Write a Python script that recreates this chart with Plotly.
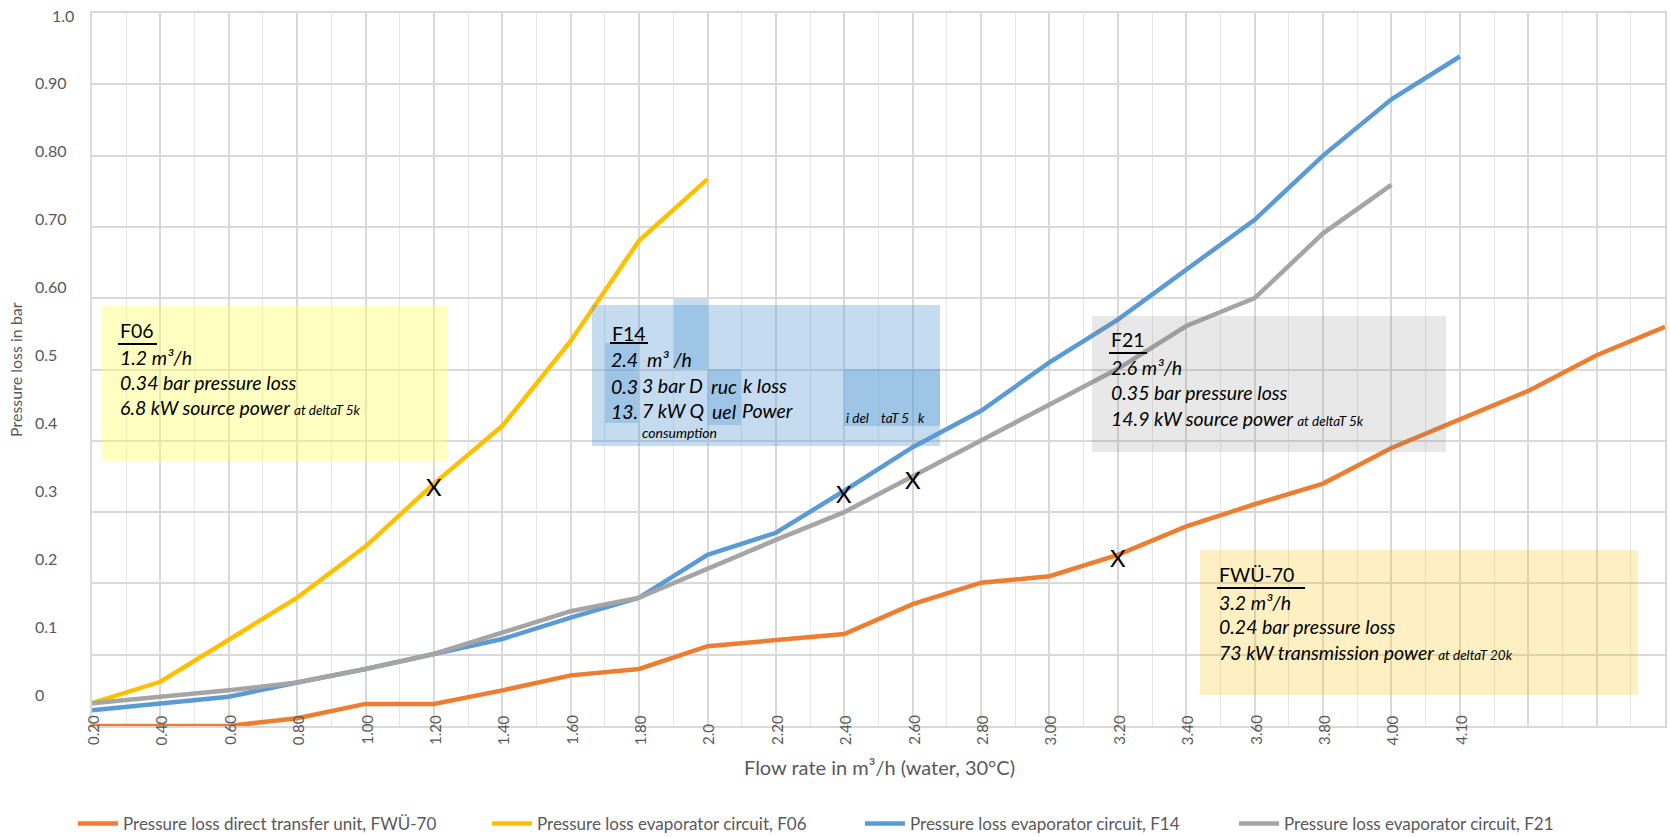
import plotly.graph_objects as go

# Flow-rate categories (m³/h); the last three slots carry no label
flow_labels = ["0.20", "0.40", "0.60", "0.80", "1.00", "1.20", "1.40", "1.60", "1.80", "2.0",
               "2.20", "2.40", "2.60", "2.80", "3.00", "3.20", "3.40", "3.60", "3.80", "4.00",
               "4.10", "", "", ""]

# Pressure loss in bar per category
fwu70 = [0.00, 0.00, 0.00, 0.011, 0.031, 0.031, 0.05, 0.071, 0.08, 0.112,
         0.121, 0.129, 0.171, 0.201, 0.21, 0.24, 0.28, 0.311, 0.34, 0.39,
         0.43, 0.47, 0.52, 0.56]
f06 = [0.032, 0.062, 0.121, 0.18, 0.252, 0.34, 0.421, 0.54, 0.681, 0.767]
f14 = [0.022, 0.031, 0.041, 0.061, 0.08, 0.101, 0.122, 0.152, 0.18, 0.24,
       0.271, 0.33, 0.391, 0.442, 0.51, 0.57, 0.64, 0.71, 0.80, 0.879, 0.939]
f21 = [0.032, 0.041, 0.05, 0.061, 0.08, 0.101, 0.131, 0.161, 0.18, 0.221,
       0.261, 0.30, 0.35, 0.401, 0.45, 0.501, 0.561, 0.60, 0.691, 0.759]

series_names = ["Pressure loss direct transfer unit, FWÜ-70",
                "Pressure loss evaporator circuit, F06",
                "Pressure loss evaporator circuit, F14",
                "Pressure loss evaporator circuit, F21"]
series_colors = ["#ED7D31", "#FFC000", "#5B9BD5", "#A5A5A5"]

# Operating point of each unit (flow label) marked with an "X"
operating_points = [("FWÜ-70", "3.20"), ("F06", "1.20"), ("F14", "2.40"), ("F21", "2.60")]

# Y-axis label texts (drawn as free text next to the grid)
ytick_text = ["0", "0.1", "0.2", "0.3", "0.4", "0.5", "0.60", "0.70", "0.80", "0.90", "1.0"]

FONT = "Lato"
GREY_TXT = "#595959"
BODY = 19.5

# Plot-area edges in page pixels
L, R, T, B = 92, 1665, 13, 726
W, H = 1670, 837

# Left edge (page px) of each legend entry
legend_lefts = [73, 487, 860, 1234]


def px(x):
    return (x - L) / (R - L)


def py(y):
    return (B - y) / (B - T)


fig = go.Figure()

data = {"FWÜ-70": fwu70, "F06": f06, "F14": f14, "F21": f21}
legend_layout = {}
for k, ((key, vals), name, color) in enumerate(zip(data.items(), series_names, series_colors)):
    lg = "legend" if k == 0 else f"legend{k + 1}"
    fig.add_trace(go.Scatter(
        x=list(range(len(vals))), y=vals, mode="lines", name=name, legend=lg,
        showlegend=True, line=dict(color=color, width=4.5), hoverinfo="skip"))
    legend_layout[lg] = dict(orientation="h", x=px(legend_lefts[k]), y=py(824),
                             xanchor="left", yanchor="middle", itemwidth=40,
                             visible=True,
                             font=dict(family=FONT, size=17, color=GREY_TXT),
                             bgcolor="rgba(0,0,0,0)")

shapes = []
annotations = []

# "X" markers at the operating points
for key, lab in operating_points:
    i = flow_labels.index(lab)
    annotations.append(dict(xref="x", yref="y", x=i, y=data[key][i], text="X",
                            showarrow=False, xanchor="center", yanchor="middle", yshift=-3,
                            font=dict(family=FONT, size=24, color="#000000")))

# Category labels under the axis, rotated, starting at a common baseline
for i, lab in enumerate(flow_labels):
    if lab:
        annotations.append(dict(xref="x", yref="paper", x=i, y=py(747), text=lab,
                                showarrow=False, xanchor="center", yanchor="bottom",
                                textangle=-90, xshift=1,
                                font=dict(family=FONT, size=15, color=GREY_TXT)))


def box(x0, y0, x1, y1, color):
    shapes.append(dict(type="rect", xref="paper", yref="paper", layer="above",
                       x0=px(x0), x1=px(x1), y0=py(y1), y1=py(y0),
                       fillcolor=color, line=dict(width=0)))


def uline(x0, x1, y):
    shapes.append(dict(type="line", xref="paper", yref="paper", layer="above",
                       x0=px(x0), x1=px(x1), y0=py(y), y1=py(y),
                       line=dict(color="#000000", width=2.2)))


def label(x, y, text, size=BODY, color="#000000", anchor="left", angle=0):
    annotations.append(dict(xref="paper", yref="paper", x=px(x), y=py(y), text=text,
                            showarrow=False, xanchor=anchor, yanchor="middle",
                            textangle=angle,
                            font=dict(family=FONT, size=size, color=color)))


def small(t):
    return "<span style='font-size:13.5px'>" + t + "</span>"


# F06 callout
box(102, 306, 447, 461, "rgba(255,255,102,0.40)")
label(118, 330, "F06")
uline(118, 157, 344)
label(118, 357, "<i>1.2 m³/h</i>")
label(118, 382, "<i>0.34 bar pressure loss</i>")
label(118, 407, "<i>6.8 kW source power " + small("at deltaT 5k") + "</i>")

# F14 callout (with its patchy cell highlights)
blue = "rgba(91,155,213,0.36)"
box(592, 305, 940, 446, blue)
box(674, 299, 707, 369, blue)
box(605, 343, 638, 423, blue)
box(708, 369, 741, 425, blue)
box(844, 369, 940, 426, blue)
label(610, 333, "F14")
uline(610, 648, 343)
label(609, 359, "<i>2.4</i>")
label(645, 359, "<i>m³ /h</i>")
label(609, 386, "<i>0.3</i>")
label(640, 385, "<i>3 bar D</i>")
label(709, 387, "<i>ruc</i>")
label(741, 385, "<i>k loss</i>")
label(609, 412, "<i>13.</i>")
label(640, 411, "<i>7 kW Q</i>")
label(710, 412, "<i>uel</i>")
label(740, 411, "<i>Power</i>")
label(844, 418, "<i>i del</i>", size=13.5)
label(879, 418, "<i>taT 5</i>", size=13.5)
label(916, 418, "<i>k</i>", size=13.5)
label(640, 432, "<i>consumption</i>", size=14)

# F21 callout
box(1092, 316, 1446, 452, "rgba(128,128,128,0.18)")
label(1109, 340, "F21")
uline(1109, 1147, 353)
label(1109, 367, "<i>2.6 m³/h</i>")
label(1109, 392, "<i>0.35 bar pressure loss</i>")
label(1109, 418, "<i>14.9 kW source power " + small("at deltaT 5k") + "</i>")

# FWÜ-70 callout
box(1200, 550, 1638, 695, "rgba(255,192,0,0.23)")
label(1217, 574, "FWÜ-70")
uline(1217, 1305, 588)
label(1217, 602, "<i>3.2 m³/h</i>")
label(1217, 626, "<i>0.24 bar pressure loss</i>")
label(1217, 652, "<i>73 kW transmission power " + small("at deltaT 20k") + "</i>")

# Y-axis value texts
for k, t in enumerate(ytick_text):
    label(50 if t == "1.0" else 33, 694 - 67.9 * k, t, size=16, color=GREY_TXT)

# Axis titles
label(15, 370, "Pressure loss in bar", size=16, color=GREY_TXT, anchor="center", angle=-90)
label(879, 767, "Flow rate in m³/h (water, 30°C)", size=20, color=GREY_TXT, anchor="center")

fig.update_layout(
    width=W, height=H, showlegend=True,
    margin=dict(l=L, r=W - R, t=T, b=H - B, autoexpand=False),
    paper_bgcolor="#FFFFFF", plot_bgcolor="#FFFFFF",
    shapes=shapes, annotations=annotations,
    font=dict(family=FONT, color=GREY_TXT),
    xaxis=dict(range=[0, len(flow_labels) - 1], tickmode="array",
               tickvals=list(range(len(flow_labels))), showticklabels=False,
               showgrid=True, gridcolor="#D9D9D9", gridwidth=1.5, zeroline=False,
               showline=True, linecolor="#D9D9D9", linewidth=1.5, mirror=True,
               ticks="", automargin=False,
               minor=dict(tickmode="linear", tick0=0.5, dtick=1, showgrid=True,
                          gridcolor="#E6E6E6", gridwidth=1)),
    yaxis=dict(range=[0, 1], dtick=0.1, showticklabels=False, automargin=False,
               showgrid=True, gridcolor="#D9D9D9", gridwidth=1.5, zeroline=False,
               showline=True, linecolor="#D9D9D9", linewidth=1.5, mirror=True, ticks=""),
    **legend_layout,
)

fig.write_html("out.html")
